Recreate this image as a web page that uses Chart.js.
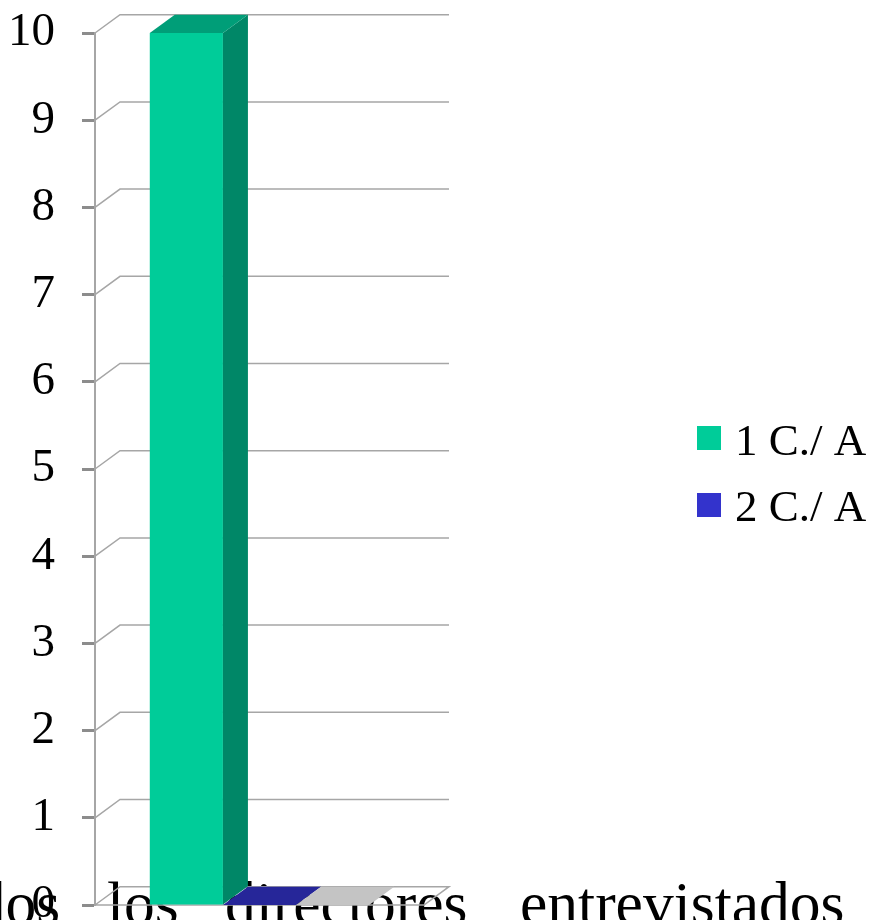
<!DOCTYPE html>
<html><head><meta charset="utf-8">
<script src="https://cdn.jsdelivr.net/npm/chart.js@4/dist/chart.umd.min.js"></script>
<style>
html,body{margin:0;padding:0;overflow:hidden;background:#fff}
#wrap{width:873px;height:960px;position:relative}
</style>
</head><body>
<div id="wrap"><canvas id="c"></canvas></div>
<script>
// ---- data ----
const categories = [''];
const seriesNames = ['1 C./ A', '2 C./ A', ''];
const series1 = [10];
const series2 = [0];
const series3 = [0];
const yTickValues = [0, 1, 2, 3, 4, 5, 6, 7, 8, 9, 10];
const bgWords = ['todos', 'los', 'directores', 'entrevistados'];

// ---- styles ----
const frontColors = ['#00CC99', '#3333CC', '#C0C0C0'];
const topColors = ['#009E78', '#262699', '#C4C4C4'];
const sideColors = ['#008767', '#1F1F80', '#A0A0A0'];
const DX = 25, DY = -18.3;
const gridColor = '#A6A6A6';
const wordX = [-73, 107, 225, 520];

const threeD = {
  id: 'threeD',
  beforeDraw(chart) {
    const ctx = chart.ctx;
    ctx.save();
    ctx.fillStyle = '#000';
    ctx.font = '61.5px "Liberation Serif", "Times New Roman", serif';
    ctx.textBaseline = 'alphabetic';
    bgWords.forEach((w, i) => ctx.fillText(w, wordX[i], 924));
    ctx.restore();
  },
  beforeDatasetsDraw(chart) {
    const ctx = chart.ctx, y = chart.scales.y, a = chart.chartArea;
    ctx.save();
    ctx.strokeStyle = gridColor;
    ctx.lineWidth = 1.5;
    yTickValues.forEach(v => {
      const py = y.getPixelForValue(v);
      ctx.beginPath();
      ctx.moveTo(a.left, py);
      ctx.lineTo(a.left + DX, py + DY);
      ctx.lineTo(a.right + DX, py + DY);
      if (v === 0) {
        ctx.lineTo(a.right, py);
        ctx.lineTo(a.left, py);
      }
      ctx.stroke();
    });
    ctx.restore();
  },
  afterDatasetsDraw(chart) {
    const ctx = chart.ctx;
    ctx.save();
    chart.data.datasets.forEach((ds, di) => {
      const meta = chart.getDatasetMeta(di);
      meta.data.forEach(bar => {
        const p = bar.getProps(['x', 'y', 'base', 'width'], true);
        const l = p.x - p.width / 2, r = p.x + p.width / 2;
        if (Math.abs(p.base - p.y) > 0.5) {
          ctx.fillStyle = sideColors[di];
          ctx.beginPath();
          ctx.moveTo(r, p.y); ctx.lineTo(r + DX, p.y + DY);
          ctx.lineTo(r + DX, p.base + DY); ctx.lineTo(r, p.base);
          ctx.closePath(); ctx.fill();
        }
        ctx.fillStyle = topColors[di];
        ctx.beginPath();
        ctx.moveTo(l, p.y); ctx.lineTo(r, p.y);
        ctx.lineTo(r + DX, p.y + DY); ctx.lineTo(l + DX, p.y + DY);
        ctx.closePath(); ctx.fill();
      });
    });
    ctx.restore();
  },
  afterDraw(chart) {
    const ctx = chart.ctx;
    ctx.save();
    ctx.font = '45px "Liberation Serif", "Times New Roman", serif';
    ctx.textBaseline = 'alphabetic';
    let row = 0;
    chart.data.datasets.forEach((ds, di) => {
      if (!ds.label) return;
      const top = 426 + row * 67;
      ctx.fillStyle = ds.backgroundColor;
      ctx.fillRect(697, top, 24, 24);
      ctx.fillStyle = '#000';
      ctx.fillText(ds.label, 735, 455 + row * 66);
      row++;
    });
    ctx.restore();
  }
};

new Chart(document.getElementById('c'), {
  type: 'bar',
  data: {
    labels: categories,
    datasets: [
      { label: seriesNames[0], data: series1, backgroundColor: frontColors[0] },
      { label: seriesNames[1], data: series2, backgroundColor: frontColors[1] },
      { label: seriesNames[2], data: series3, backgroundColor: frontColors[2] }
    ]
  },
  options: {
    responsive: true,
    maintainAspectRatio: false,
    animation: false,
    layout: { padding: { left: -19, top: 33, right: 449, bottom: 55 } },
    datasets: { bar: { categoryPercentage: 0.667, barPercentage: 1, borderWidth: 0 } },
    plugins: { legend: { display: false }, tooltip: { enabled: false } },
    scales: {
      x: { display: false },
      y: {
        min: 0, max: 10,
        ticks: { stepSize: 1, color: '#000', padding: 27,
          font: { family: '"Liberation Serif", "Times New Roman", serif', size: 47, lineHeight: 0.2 } },
        grid: { drawOnChartArea: false, drawTicks: true, tickLength: 13, tickWidth: 3, tickColor: '#8C8C8C' },
        border: { display: true, color: '#A6A6A6', width: 2 }
      }
    }
  },
  plugins: [threeD]
});
</script>
</body></html>
